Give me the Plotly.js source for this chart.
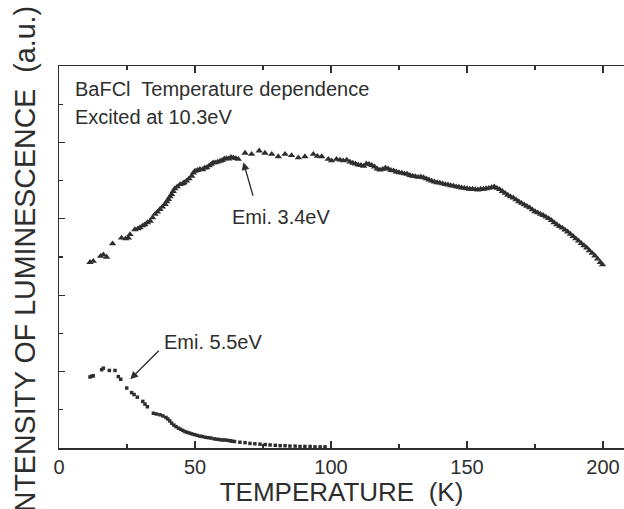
<!DOCTYPE html>
<html>
<head>
<meta charset="utf-8">
<script src="https://cdn.plot.ly/plotly-3.0.1.min.js"></script>
<style>html,body{margin:0;padding:0;background:#fff;}#chart{width:624px;height:509px;}</style>
</head>
<body>
<div id="chart"></div>
<script>
// Emission 3.4 eV (triangles)
const tempA = [11.4,12.6,15.3,16.3,17.5,19.7,23.0,24.5,25.5,26.1,27.9,29.0,29.8,30.8,31.6,32.5,33.5,34.4,35.3,36.2,37.1,38.0,39.0,39.6,40.2,40.8,41.4,42.0,42.6,43.5,44.5,45.5,46.0,46.9,47.8,48.8,49.4,50.0,50.9,51.8,52.8,53.5,54.3,55.2,56.0,56.7,57.5,58.3,59.2,60.0,60.8,61.6,62.4,63.2,64.1,65.0,65.9,
68.4,70.8,73.6,75.7,78.2,80.6,83.1,85.5,88.0,90.4,93.5,95.0,96.6,99.0,100.2,102.0,103.3,104.5,105.8,
107,108,109,110,111,112,113,114,115,116,117,118,119,120,121,122,123,124,125,126,127,128,129,130,131,132,133,134,135,136,137,138,139,140,141,142,143,144,145,146,147,148,149,150,151,152,153,154,155,156,157,158,159,160,161,162,163,164,165,166,167,168,169,170,171,172,173,174,175,176,177,178,179,180,181,182,183,184,185,186,187,188,189,190,191,192,193,194,195,196,197,198,199,199.8];
const emi34 = [4.86,4.89,5.02,5.06,5.00,5.35,5.50,5.48,5.50,5.59,5.72,5.74,5.77,5.82,5.85,5.90,5.94,6.03,6.12,6.18,6.25,6.31,6.38,6.45,6.51,6.58,6.64,6.72,6.79,6.84,6.90,6.92,6.95,6.99,7.05,7.12,7.20,7.25,7.27,7.30,7.29,7.33,7.34,7.39,7.43,7.47,7.47,7.49,7.51,7.53,7.57,7.58,7.57,7.61,7.60,7.58,7.56,
7.72,7.69,7.78,7.72,7.69,7.63,7.69,7.66,7.60,7.63,7.69,7.64,7.63,7.56,7.52,7.56,7.54,7.52,7.54,
7.49,7.46,7.44,7.41,7.40,7.38,7.44,7.43,7.40,7.36,7.31,7.28,7.30,7.33,7.31,7.27,7.26,7.23,7.21,7.20,7.18,7.17,7.14,7.12,7.11,7.09,7.10,7.08,7.05,7.02,6.99,6.97,6.95,6.94,6.92,6.90,6.89,6.87,6.86,6.84,6.83,6.81,6.80,6.79,6.78,6.78,6.77,6.76,6.78,6.78,6.79,6.80,6.82,6.84,6.80,6.77,6.72,6.67,6.62,6.58,6.55,6.50,6.45,6.41,6.37,6.33,6.29,6.24,6.19,6.16,6.12,6.09,6.05,6.01,5.96,5.90,5.85,5.80,5.76,5.71,5.66,5.60,5.54,5.48,5.42,5.36,5.30,5.24,5.17,5.10,5.03,4.95,4.86,4.80];

// Emission 5.5 eV (small squares)
const tempB = [11.4,12.0,12.6,15.7,16.3,18.5,20.6,21.8,22.7,24.9,26.7,27.6,28.8,30.8,31.6,32.5,34.7,35.8,37.1,38.2,39.3,40.0,40.7,41.4,42.2,43.0,43.9,44.7,45.5,46.3,47.1,48.0,48.8,49.8,50.8,51.8,52.8,53.8,54.9,55.9,57.0,58.0,59.0,60.0,61.0,62.0,63.0,63.5,64.5,66.5,68.4,70.2,72.0,73.9,75.8,77.6,79.5,81.3,83.1,84.9,86.8,88.6,90.4,92.3,94.1,96.0,97.8];
const emi55 = [1.86,1.88,1.89,2.05,2.09,2.03,2.03,1.87,1.80,1.57,1.45,1.40,1.33,1.22,1.15,1.08,0.91,0.89,0.87,0.84,0.80,0.76,0.71,0.65,0.60,0.56,0.52,0.49,0.46,0.43,0.41,0.39,0.37,0.35,0.33,0.31,0.30,0.28,0.27,0.26,0.24,0.23,0.22,0.21,0.21,0.20,0.19,0.18,0.17,0.15,0.14,0.12,0.11,0.10,0.09,0.08,0.07,0.06,0.06,0.05,0.05,0.04,0.04,0.04,0.03,0.03,0.03];

const xTickVals = [0,50,100,150,200];
const xTickText = ['0','50','100','150','200'];

const ink = '#2e2e2e';
const font = 'Liberation Sans, Arial, sans-serif';

const traces = [
  {x: tempA, y: emi34, type: 'scatter', mode: 'markers', name: 'Emi. 3.4eV',
   marker: {symbol: 'triangle-up', size: 6.5, color: ink}},
  {x: tempB, y: emi55, type: 'scatter', mode: 'markers', name: 'Emi. 5.5eV',
   marker: {symbol: 'square', size: 3.5, color: ink}}
];

const layout = {
  width: 624, height: 509,
  margin: {l: 59, r: 0, t: 66, b: 61},
  paper_bgcolor: '#fff', plot_bgcolor: '#fff',
  showlegend: false,
  font: {family: font, color: ink, size: 20},
  xaxis: {
    range: [0, 207.7], showgrid: false, zeroline: false,
    showline: true, linecolor: ink, linewidth: 1.5, mirror: 'ticks',
    ticks: 'inside', ticklen: 7, tickwidth: 1.3, tickcolor: ink,
    tickvals: xTickVals, ticktext: xTickText,
    tickfont: {size: 20, color: ink, family: font},
    minor: {dtick: 25, tick0: 0, ticks: 'inside', ticklen: 4, tickwidth: 1.2, tickcolor: ink},
    title: {text: 'TEMPERATURE  (K)', font: {size: 26, color: ink, family: font}, standoff: 4}
  },
  yaxis: {
    range: [0, 10], showgrid: false, zeroline: false,
    showline: true, linecolor: ink, linewidth: 1.5, mirror: false,
    ticks: 'inside', ticklen: 6, tickwidth: 1.2, tickcolor: ink,
    tick0: 0, dtick: 2, showticklabels: false,
    minor: {dtick: 1, tick0: 0, ticks: 'inside', ticklen: 4, tickwidth: 1.2, tickcolor: ink}
  },
  annotations: [
    {xref: 'paper', yref: 'paper', x: -0.060, y: 0.484, xanchor: 'center', yanchor: 'middle',
     textangle: -90, text: 'INTENSITY OF LUMINESCENCE  (a.u.)', showarrow: false,
     font: {size: 28.6, color: ink, family: font}},
    {xref: 'paper', yref: 'paper', x: 0.024, y: 0.94, xanchor: 'left', yanchor: 'middle',
     text: 'BaFCl  Temperature dependence', showarrow: false, font: {size: 20, color: ink}},
    {xref: 'paper', yref: 'paper', x: 0.024, y: 0.866, xanchor: 'left', yanchor: 'middle',
     text: 'Excited at 10.3eV', showarrow: false, font: {size: 20, color: ink}},
    {x: 81.5, y: 6.05, xref: 'x', yref: 'y', text: 'Emi. 3.4eV', showarrow: false, font: {size: 20, color: ink}},
    {x: 67.8, y: 7.48, xref: 'x', yref: 'y', ax: 10, ay: 35, text: '', showarrow: true,
     arrowhead: 2, arrowsize: 1.2, arrowwidth: 1.3, arrowcolor: ink},
    {x: 56.7, y: 2.78, xref: 'x', yref: 'y', text: 'Emi. 5.5eV', showarrow: false, font: {size: 20, color: ink}},
    {x: 26.2, y: 1.80, xref: 'x', yref: 'y', ax: 30, ay: -30, text: '', showarrow: true,
     arrowhead: 2, arrowsize: 1.2, arrowwidth: 1.3, arrowcolor: ink}
  ]
};

Plotly.newPlot('chart', traces, layout, {staticPlot: true, displayModeBar: false});
</script>
</body>
</html>
